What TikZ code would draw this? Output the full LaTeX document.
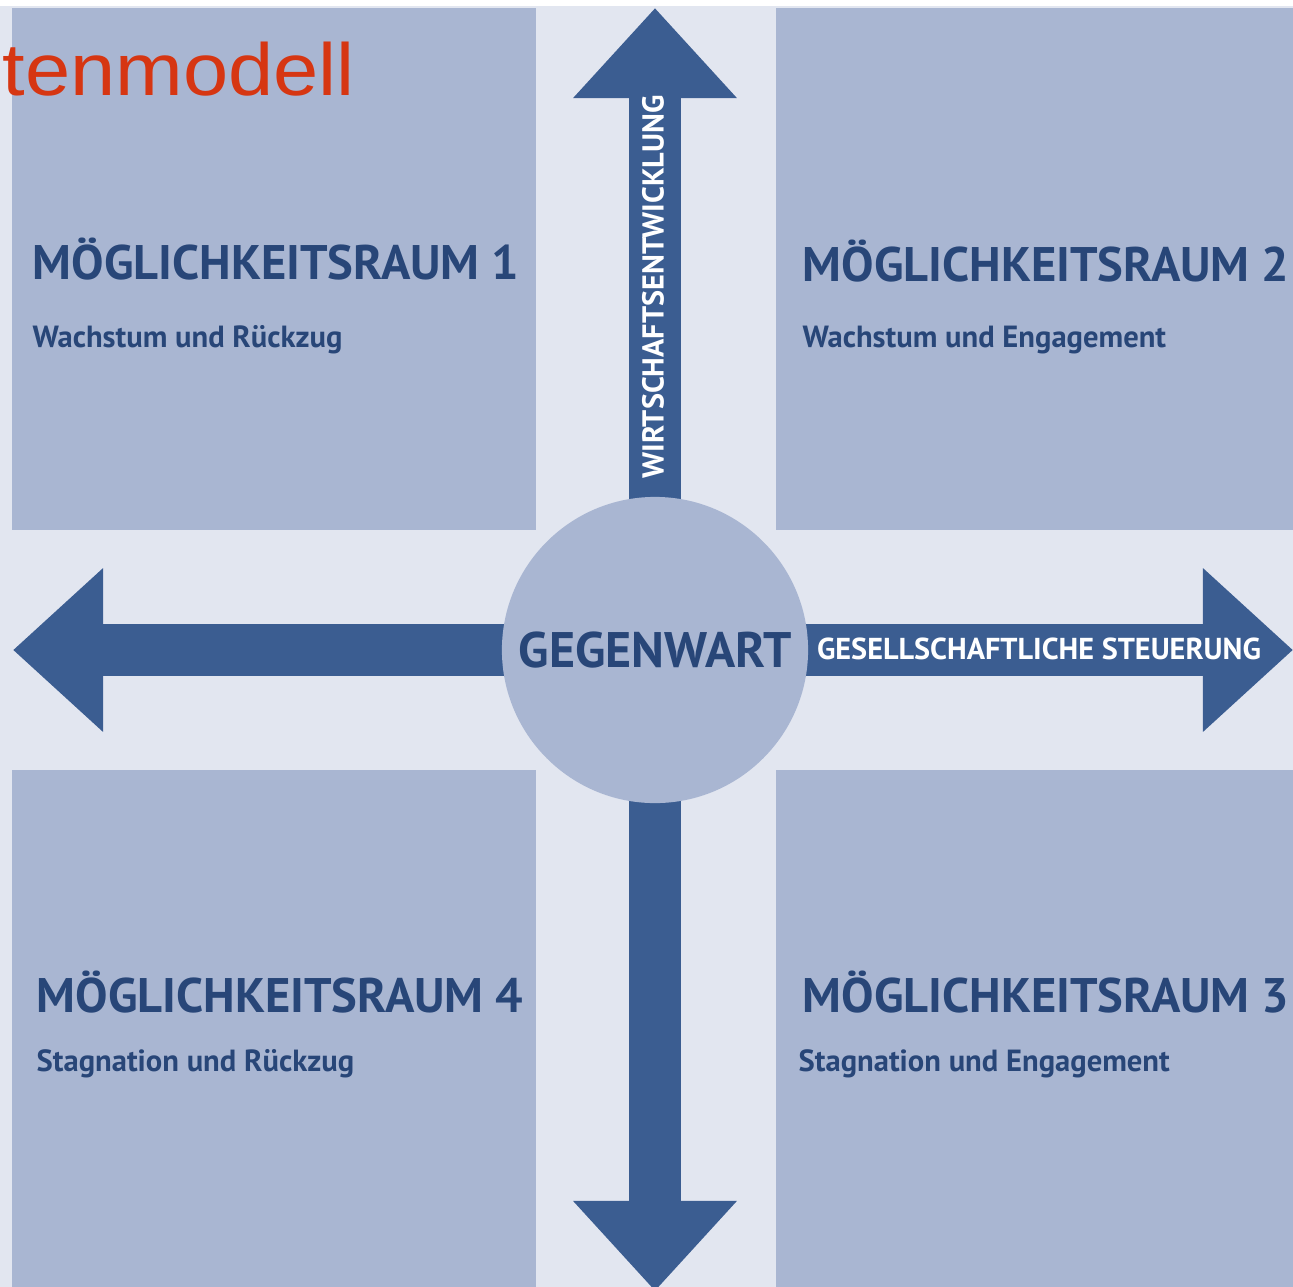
\documentclass[tikz,border=0pt]{standalone}
\usepackage{fontspec}
\usetikzlibrary{arrows.meta, positioning}
\newfontfamily\ptsans{PT Sans}
\newfontfamily\redsans{Liberation Sans}
\definecolor{bgcol}{RGB}{226,230,240}
\definecolor{roomcol}{RGB}{169,182,210}
\definecolor{axiscol}{RGB}{59,93,145}
\definecolor{textcol}{RGB}{40,70,120}
\definecolor{redcol}{RGB}{214,54,18}

\begin{document}
\begin{tikzpicture}[x=0.01cm, y=-0.01cm,
    room/.style={fill=roomcol},
    title/.style={anchor=base west, inner sep=0, text=textcol, font=\ptsans\bfseries\fontsize{13.8}{16}\selectfont},
    sub/.style={anchor=base west, inner sep=0, text=textcol, font=\ptsans\bfseries\fontsize{8.7}{10}\selectfont},
    axis/.style={line width=0.52cm, draw=axiscol, -{Triangle[width=1.58cm, length=0.9cm]}},
    axislabel/.style={inner sep=0, text=white, font=\ptsans\bfseries\fontsize{8.6}{10}\selectfont}]
    \useasboundingbox (0,0) rectangle (1293,1287);
    \fill[bgcol] (0,6) rectangle (1293,1287);

    % Quadranten
    \fill[room] (12,8) rectangle (536,530);
    \fill[room] (776,8) rectangle (1293,530);
    \fill[room] (12,770) rectangle (536,1287);
    \fill[room] (776,770) rectangle (1293,1287);

    % Achsen
    \coordinate (c) at (655,650);
    \coordinate (north) at (655,8);
    \coordinate (south) at (655,1291);
    \coordinate (west) at (13,650);
    \coordinate (east) at (1293,650);
    \draw[axis] (c) -- (north);
    \draw[axis] (c) -- (south);
    \draw[axis] (c) -- (west);
    \draw[axis] (c) -- (east);

    \node[circle, fill=roomcol, minimum size=3.06cm, inner sep=0, text=textcol,
      font=\ptsans\bfseries\fontsize{14.2}{16}\selectfont] (now) at (c) {GEGENWART};
    \node[axislabel, rotate=90] (wirtschaft) at (653,287) {WIRTSCHAFTSENTWICKLUNG};
    \node[axislabel] (steuerung) at (1039,649) {GESELLSCHAFTLICHE STEUERUNG};

    % Texte der Quadranten
    \node[title] (t1) at (32,279) {MÖGLICHKEITSRAUM 1};
    \node[sub] (s1) at (32,347) {Wachstum und Rückzug};
    \node[title] (t2) at (802,281) {MÖGLICHKEITSRAUM 2};
    \node[sub] (s2) at (802,347) {Wachstum und Engagement};
    \node[title] (t4) at (36,1012) {MÖGLICHKEITSRAUM 4};
    \node[sub] (s4) at (36,1071) {Stagnation und Rückzug};
    \node[title] (t3) at (802,1012) {MÖGLICHKEITSRAUM 3};
    \node[sub] (s3) at (798,1071) {Stagnation und Engagement};

    \node[anchor=base west, inner sep=0, xscale=1.1, text=redcol, font=\redsans\fontsize{21}{24}\selectfont] (head) at (2,95) {tenmodell};
\end{tikzpicture}
\end{document}
